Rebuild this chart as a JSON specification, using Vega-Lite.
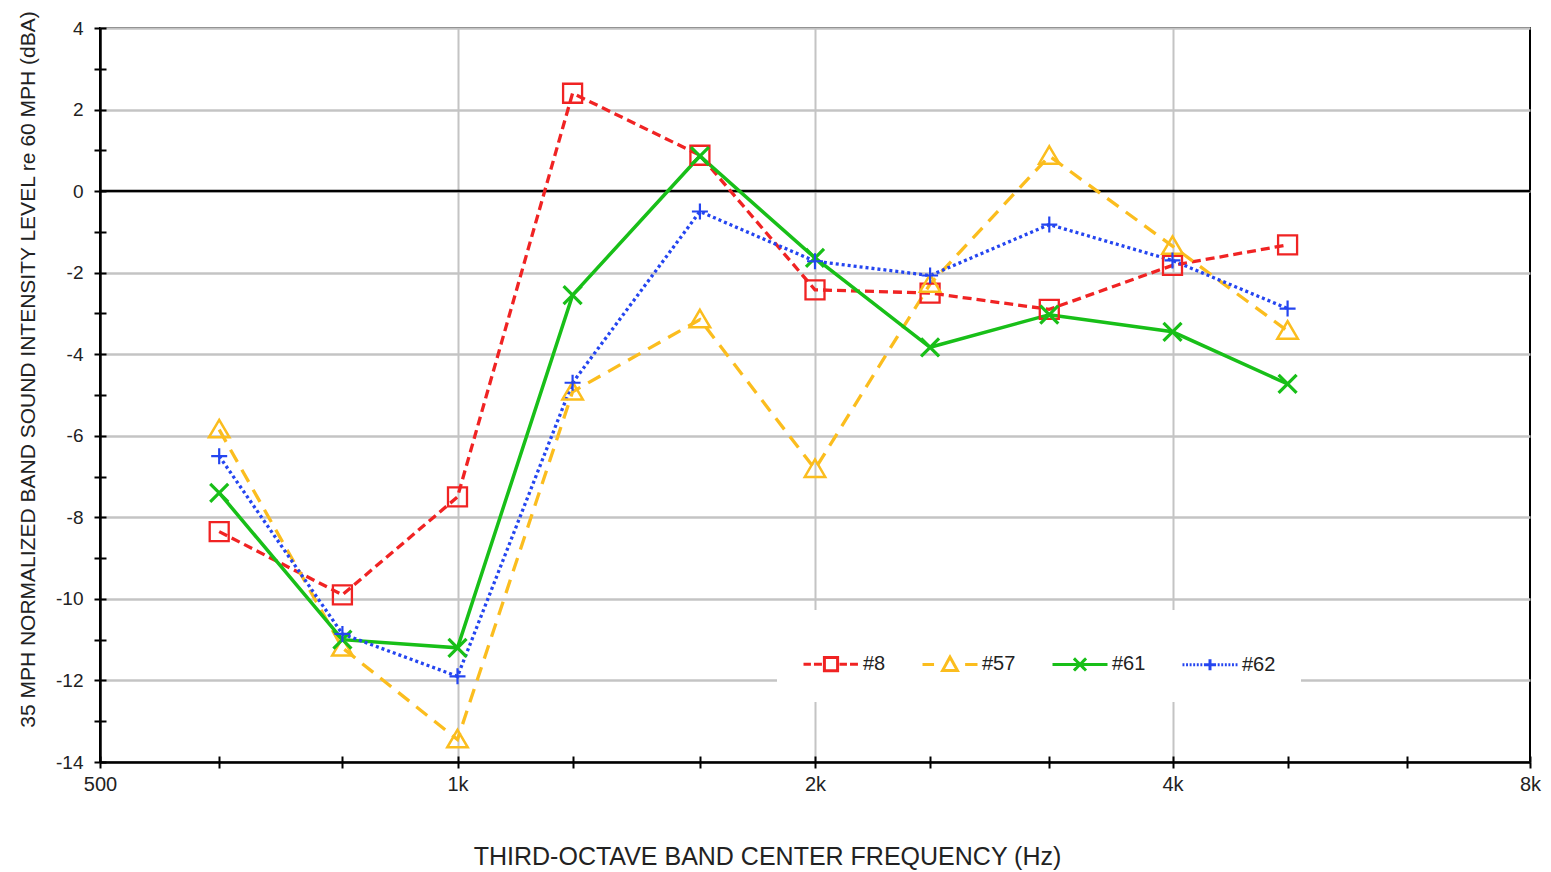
{
  "$schema": "https://vega.github.io/schema/vega-lite/v6.json",
  "width": 1430,
  "height": 734,
  "autosize": {"type": "none"},
  "padding": {"left": 100, "top": 28, "right": 21, "bottom": 110},
  "background": "white",
  "config": {
    "view": {"stroke": "black", "strokeWidth": 2},
    "font": "Liberation Sans",
    "point": {"opacity": 1},
    "axis": {"labelFont": "Liberation Sans", "titleFont": "Liberation Sans", "labelColor": "#222", "titleColor": "#222", "titleFontWeight": "normal"}
  },
  "data": {
    "values": [
      {"f": 630, "series": "#8", "v": -8.35},
      {"f": 800, "series": "#8", "v": -9.9},
      {"f": 1000, "series": "#8", "v": -7.5},
      {"f": 1250, "series": "#8", "v": 2.4},
      {"f": 1600, "series": "#8", "v": 0.88},
      {"f": 2000, "series": "#8", "v": -2.42},
      {"f": 2500, "series": "#8", "v": -2.5},
      {"f": 3150, "series": "#8", "v": -2.9},
      {"f": 4000, "series": "#8", "v": -1.82},
      {"f": 5000, "series": "#8", "v": -1.32},
      {"f": 630, "series": "#57", "v": -5.85},
      {"f": 800, "series": "#57", "v": -11.2},
      {"f": 1000, "series": "#57", "v": -13.45},
      {"f": 1250, "series": "#57", "v": -4.92},
      {"f": 1600, "series": "#57", "v": -3.15},
      {"f": 2000, "series": "#57", "v": -6.82},
      {"f": 2500, "series": "#57", "v": -2.28},
      {"f": 3150, "series": "#57", "v": 0.86},
      {"f": 4000, "series": "#57", "v": -1.35},
      {"f": 5000, "series": "#57", "v": -3.43},
      {"f": 630, "series": "#61", "v": -7.4},
      {"f": 800, "series": "#61", "v": -11.0},
      {"f": 1000, "series": "#61", "v": -11.2},
      {"f": 1250, "series": "#61", "v": -2.55},
      {"f": 1600, "series": "#61", "v": 0.86},
      {"f": 2000, "series": "#61", "v": -1.64},
      {"f": 2500, "series": "#61", "v": -3.83},
      {"f": 3150, "series": "#61", "v": -3.03},
      {"f": 4000, "series": "#61", "v": -3.45},
      {"f": 5000, "series": "#61", "v": -4.73},
      {"f": 630, "series": "#62", "v": -6.5},
      {"f": 800, "series": "#62", "v": -10.86},
      {"f": 1000, "series": "#62", "v": -11.9},
      {"f": 1250, "series": "#62", "v": -4.7},
      {"f": 1600, "series": "#62", "v": -0.5},
      {"f": 2000, "series": "#62", "v": -1.72},
      {"f": 2500, "series": "#62", "v": -2.07},
      {"f": 3150, "series": "#62", "v": -0.82},
      {"f": 4000, "series": "#62", "v": -1.7},
      {"f": 5000, "series": "#62", "v": -2.88}
    ]
  },
  "layer": [
    {
      "transform": [{"filter": "datum.f < 0"}],
      "mark": {"type": "point", "filled": false, "strokeWidth": 3, "opacity": 1},
      "encoding": {
        "x": {"field": "f", "type": "quantitative", "scale": {"type": "log", "domain": [500, 8000], "nice": false, "zero": false},
          "axis": {"orient": "bottom", "values": [1000, 2000, 4000], "grid": true, "gridColor": "#c4c4c4", "gridWidth": 2, "ticks": false, "labels": false, "domain": false, "title": null}},
        "y": {"field": "v", "type": "quantitative", "scale": {"domain": [-14, 4], "nice": false, "zero": false},
          "axis": {"orient": "left", "values": [-14, -12, -10, -8, -6, -4, -2, 0, 2, 4], "grid": true, "gridColor": "#c4c4c4", "gridWidth": 2.5, "ticks": false, "labels": false, "domain": false, "title": null}},
        "color": {"field": "series", "type": "nominal",
          "scale": {"domain": ["#8", "#57", "#61", "#62"], "range": ["#f02323", "#fbbd1e", "#18bf18", "#2445f0"]},
          "legend": {
            "title": null, "orient": "none", "legendX": 677, "legendY": 582, "direction": "horizontal", "columns": 4,
            "fillColor": "white", "padding": 25, "symbolSize": 3025, "symbolStrokeWidth": 3, "symbolOpacity": 1, "symbolDash": [1, 0],
            "labelFontSize": 20, "labelFont": "Liberation Sans", "labelColor": "#222", "labelOffset": 3, "columnPadding": 30
          }},
        "shape": {"field": "series", "type": "nominal",
          "scale": {"domain": ["#8", "#57", "#61", "#62"], "range": [
            "M-1,0H-0.73M-0.62,0H-0.33M-0.24,-0.24H0.24V0.24H-0.24ZM0.31,0H0.58M0.69,0H0.98",
            "M-1,0H-0.58M0,-0.27L0.27,0.22H-0.27ZM0.55,0H1",
            "M-1,0H1M-0.22,-0.22L0.22,0.22M-0.22,0.22L0.22,-0.22",
            "M-1,0h0.07M-0.87,0h0.07M-0.74,0h0.07M-0.61,0h0.07M-0.48,0h0.07M-0.35,0h0.07M-0.22,0H0.22M0,-0.2V0.2M0.28,0h0.07M0.41,0h0.07M0.54,0h0.07M0.67,0h0.07M0.8,0h0.07M0.93,0h0.07"
          ]},
          "legend": {
            "title": null, "orient": "none", "legendX": 677, "legendY": 582, "direction": "horizontal", "columns": 4,
            "fillColor": "white", "padding": 25, "symbolSize": 3025, "symbolStrokeWidth": 3, "symbolOpacity": 1, "symbolDash": [1, 0],
            "labelFontSize": 20, "labelFont": "Liberation Sans", "labelColor": "#222", "labelOffset": 3, "columnPadding": 30
          }
        },
        "size": {"value": 3025}
      }
    },
    {
      "data": {"values": [{"z": 0}]},
      "mark": {"type": "rule", "color": "black", "strokeWidth": 2.5},
      "encoding": {"y": {"field": "z", "type": "quantitative", "axis": null}}
    },
    {
      "transform": [{"filter": "datum.series === '#8'"}],
      "mark": {"type": "line", "strokeWidth": 3.3, "strokeDash": [9, 5]},
      "encoding": {
        "x": {"field": "f", "type": "quantitative",
          "axis": {"orient": "bottom", "values": [500, 630, 800, 1000, 1250, 1600, 2000, 2500, 3150, 4000, 5000, 6300, 8000],
            "labelExpr": "indexof([500,1000,2000,4000,8000], datum.value) >= 0 ? (datum.value >= 1000 ? (datum.value/1000) + 'k' : '500') : ''",
            "tickSize": 6, "tickColor": "black", "tickWidth": 2, "domainColor": "black", "domainWidth": 2.5, "grid": false,
            "labelFontSize": 20, "labelPadding": 6, "labelFlush": false, "labelOverlap": false,
            "title": "THIRD-OCTAVE BAND CENTER FREQUENCY (Hz)", "titleFontSize": 25, "titleX": 667, "titleY": 82, "titleBaseline": "top"}},
        "y": {"field": "v", "type": "quantitative",
          "axis": {"orient": "left", "values": [-14, -13, -12, -11, -10, -9, -8, -7, -6, -5, -4, -3, -2, -1, 0, 1, 2, 3, 4],
            "labelExpr": "datum.value % 2 === 0 ? '' + datum.value : ''",
            "tickSize": 6, "tickColor": "black", "tickWidth": 2, "domainColor": "black", "domainWidth": 2.5, "grid": false,
            "labelFontSize": 19, "labelPadding": 11, "labelOverlap": false, "labelFlush": false,
            "title": "35 MPH NORMALIZED BAND SOUND INTENSITY LEVEL re 60 MPH (dBA)", "titleFontSize": 21, "titleX": -62, "titleY": 341}},
        "color": {"field": "series", "type": "nominal", "legend": null}
      }
    },
    {
      "transform": [{"filter": "datum.series === '#57'"}],
      "mark": {"type": "line", "strokeWidth": 3.3, "strokeDash": [14, 9]},
      "encoding": {
        "x": {"field": "f", "type": "quantitative", "axis": null},
        "y": {"field": "v", "type": "quantitative", "axis": null},
        "color": {"field": "series", "type": "nominal", "legend": null}
      }
    },
    {
      "transform": [{"filter": "datum.series === '#61'"}],
      "mark": {"type": "line", "strokeWidth": 3.5},
      "encoding": {
        "x": {"field": "f", "type": "quantitative", "axis": null},
        "y": {"field": "v", "type": "quantitative", "axis": null},
        "color": {"field": "series", "type": "nominal", "legend": null}
      }
    },
    {
      "transform": [{"filter": "datum.series === '#62'"}],
      "mark": {"type": "line", "strokeWidth": 3.3, "strokeDash": [3, 3]},
      "encoding": {
        "x": {"field": "f", "type": "quantitative", "axis": null},
        "y": {"field": "v", "type": "quantitative", "axis": null},
        "color": {"field": "series", "type": "nominal", "legend": null}
      }
    },
    {
      "transform": [{"filter": "datum.series === '#8'"}],
      "mark": {"type": "point", "filled": false, "opacity": 1, "strokeWidth": 2.3, "shape": "M-1,-1H1V1H-1Z", "size": 361},
      "encoding": {
        "x": {"field": "f", "type": "quantitative",
          "axis": {"orient": "bottom", "values": [500, 630, 800, 1000, 1250, 1600, 2000, 2500, 3150, 4000, 5000, 6300, 8000], "tickSize": -6, "tickColor": "black", "tickWidth": 2, "labels": false, "domain": false, "grid": false, "title": null}},
        "y": {"field": "v", "type": "quantitative",
          "axis": {"orient": "left", "values": [-14, -13, -12, -11, -10, -9, -8, -7, -6, -5, -4, -3, -2, -1, 0, 1, 2, 3, 4], "tickSize": -6, "tickColor": "black", "tickWidth": 2, "labels": false, "domain": false, "grid": false, "title": null}},
        "color": {"field": "series", "type": "nominal", "legend": null}
      }
    },
    {
      "transform": [{"filter": "datum.series === '#57'"}],
      "mark": {"type": "point", "filled": false, "opacity": 1, "strokeWidth": 2.5, "shape": "M0,-0.95L1,0.75H-1Z", "size": 420},
      "encoding": {
        "x": {"field": "f", "type": "quantitative", "axis": null},
        "y": {"field": "v", "type": "quantitative", "axis": null},
        "color": {"field": "series", "type": "nominal", "legend": null}
      }
    },
    {
      "transform": [{"filter": "datum.series === '#61'"}],
      "mark": {"type": "point", "filled": false, "opacity": 1, "strokeWidth": 3.2, "shape": "M-1,-1L1,1M-1,1L1,-1", "size": 324},
      "encoding": {
        "x": {"field": "f", "type": "quantitative", "axis": null},
        "y": {"field": "v", "type": "quantitative", "axis": null},
        "color": {"field": "series", "type": "nominal", "legend": null}
      }
    },
    {
      "transform": [{"filter": "datum.series === '#62'"}],
      "mark": {"type": "point", "filled": false, "opacity": 1, "strokeWidth": 2.2, "shape": "M-1,0H1M0,-1V1", "size": 256},
      "encoding": {
        "x": {"field": "f", "type": "quantitative", "axis": null},
        "y": {"field": "v", "type": "quantitative", "axis": null},
        "color": {"field": "series", "type": "nominal", "legend": null}
      }
    }
  ],
  "resolve": {"axis": {"x": "independent", "y": "independent"}}
}
